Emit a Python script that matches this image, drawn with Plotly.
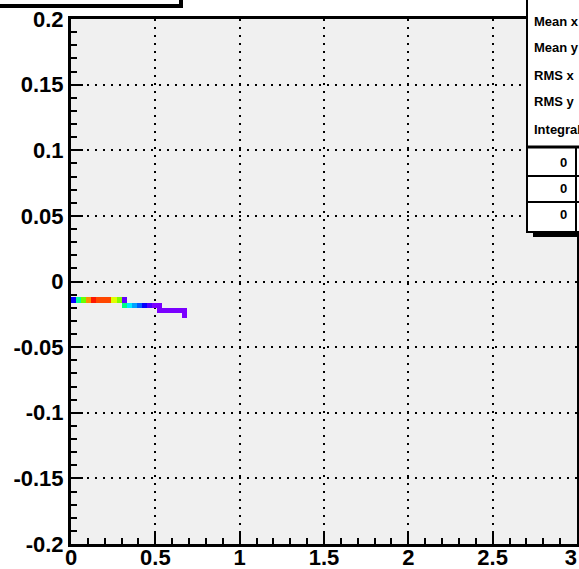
import colorsys
import plotly.graph_objects as go

# ---- data (bin centres and contents) ----
cells_x = [0.015, 0.045, 0.075, 0.105, 0.135, 0.165, 0.195, 0.225, 0.255, 0.285, 0.315,
           0.315, 0.345, 0.375, 0.405, 0.435, 0.465, 0.495, 0.525,
           0.525, 0.555, 0.585, 0.615, 0.645, 0.675,
           0.675]
cells_y = [-0.014] * 11 + [-0.018] * 8 + [-0.022] * 6 + [-0.026]
cells_z = [7, 21, 32, 43, 48, 46, 46, 46, 37, 33, 2,
           22, 16, 13, 10, 7, 3, 1, 1,
           1, 1, 1, 1, 1, 1,
           1]

x_ticks = [0, 0.5, 1, 1.5, 2, 2.5, 3]
x_labels = ["0", "0.5", "1", "1.5", "2", "2.5", "3\u00a0\u00a0"]
y_ticks = [-0.2, -0.15, -0.1, -0.05, 0, 0.05, 0.1, 0.15, 0.2]
y_labels = ["-0.2", "-0.15", "-0.1", "-0.05", "0", "0.05", "0.1", "0.15", "0.2"]
stat_names = ["Mean x", "Mean y", "RMS x", "RMS y", "Integral"]
cell_values = ["0", "0", "0"]

# ---- binning ----
NX, X0, DX = 100, 0.0, 0.03
NY, Y0, DY = 100, -0.2, 0.004
grid = [[None] * NX for _ in range(NY)]
for cx, cy, cz in zip(cells_x, cells_y, cells_z):
    i = int(round((cx - X0) / DX - 0.5))
    j = int(round((cy - Y0) / DY - 0.5))
    grid[j][i] = cz

# ROOT "pretty palette" violet -> red, 50 steps
ncol = 50
pal = []
for k in range(ncol):
    h = 280 - (k + 1) * (280 / ncol)
    r, g, b = colorsys.hls_to_rgb(h / 360.0, 0.5, 1.0)
    pal.append("rgb(%d,%d,%d)" % (round(r * 255), round(g * 255), round(b * 255)))
cscale = []
for k, c in enumerate(pal):
    cscale.append([k / ncol, c])
    cscale.append([(k + 1) / ncol, c])

W, H = 579, 569
L, R, T, B = 71, 2, 19, 25
pw, ph = W - L - R, H - T - B


def px(xp):
    return (xp - L) / pw


def py(yp):
    return (H - B - yp) / ph


fig = go.Figure()
fig.add_trace(go.Heatmap(
    z=grid, x0=X0 + DX / 2, dx=DX, y0=Y0 + DY / 2, dy=DY,
    colorscale=cscale, zmin=0, zmax=50, showscale=False,
    hoverongaps=False, xgap=0, ygap=0,
))

font = dict(family="Liberation Sans, Arial, sans-serif", size=22, color="black", weight="bold")

fig.update_xaxes(
    range=[0, 3], tickvals=x_ticks, ticktext=x_labels, tickfont=font,
    ticks="inside", ticklen=12, tickwidth=2, tickcolor="black",
    minor=dict(ticks="inside", dtick=0.1, ticklen=6, tickwidth=2, tickcolor="black", showgrid=False),
    showline=True, linewidth=3, linecolor="black", mirror=True,
    showgrid=True, gridcolor="black", gridwidth=2, griddash="2px,6px",
    zeroline=False, fixedrange=True, automargin=False,
    ticklabelstandoff=-8, ticklabeloverflow="allow",
)
fig.update_yaxes(
    range=[-0.2, 0.2], tickvals=y_ticks, ticktext=y_labels, tickfont=font,
    ticks="inside", ticklen=12, tickwidth=2, tickcolor="black",
    minor=dict(ticks="inside", dtick=0.01, ticklen=6, tickwidth=2, tickcolor="black", showgrid=False),
    showline=True, linewidth=3, linecolor="black", mirror=True,
    showgrid=True, gridcolor="black", gridwidth=2, griddash="2px,6px",
    zeroline=False, fixedrange=True, automargin=False,
    ticklabeloverflow="allow",
)

shapes = []
# title box (mostly off-canvas)
shapes.append(dict(type="rect", xref="paper", yref="paper",
                   x0=px(-20), x1=px(181), y0=py(6), y1=py(-20),
                   fillcolor="white", line=dict(color="black", width=4), layer="above"))
# stats box shadow
shapes.append(dict(type="rect", xref="paper", yref="paper",
                   x0=px(533), x1=px(600), y0=py(237), y1=py(200),
                   fillcolor="black", line=dict(width=0), layer="above"))
# stats box
shapes.append(dict(type="rect", xref="paper", yref="paper",
                   x0=px(527), x1=px(600), y0=py(232), y1=py(-20),
                   fillcolor="white", line=dict(color="black", width=2), layer="above"))
# table lines
shapes.append(dict(type="line", xref="paper", yref="paper",
                   x0=px(527), x1=px(600), y0=py(147), y1=py(147),
                   line=dict(color="black", width=3), layer="above"))
for yl in [176, 202]:
    shapes.append(dict(type="line", xref="paper", yref="paper",
                       x0=px(527), x1=px(600), y0=py(yl), y1=py(yl),
                       line=dict(color="black", width=2), layer="above"))
shapes.append(dict(type="line", xref="paper", yref="paper",
                   x0=px(576), x1=px(576), y0=py(147), y1=py(232),
                   line=dict(color="black", width=2), layer="above"))

annotations = []
sfont = dict(family="Liberation Sans, Arial, sans-serif", size=13, color="black", weight="bold")
for name, yc in zip(stat_names, [22, 48, 75, 102, 129]):
    annotations.append(dict(text=name, xref="paper", yref="paper", x=px(532), y=py(yc),
                            xanchor="left", yanchor="middle", showarrow=False, font=sfont))
for v, yc in zip(cell_values, [162, 189, 215]):
    annotations.append(dict(text=v, xref="paper", yref="paper", x=px(563), y=py(yc),
                            xanchor="center", yanchor="middle", showarrow=False, font=sfont))

fig.update_layout(
    template="none",
    width=W, height=H,
    margin=dict(l=L, r=R, t=T, b=B, pad=0, autoexpand=False),
    paper_bgcolor="white", plot_bgcolor="#f0f0f0",
    shapes=shapes, annotations=annotations, showlegend=False,
)

fig.write_html(
    "out.html",
    config={"displayModeBar": False},
    post_script="document.body.style.margin='0';document.body.style.overflow='hidden';",
)
